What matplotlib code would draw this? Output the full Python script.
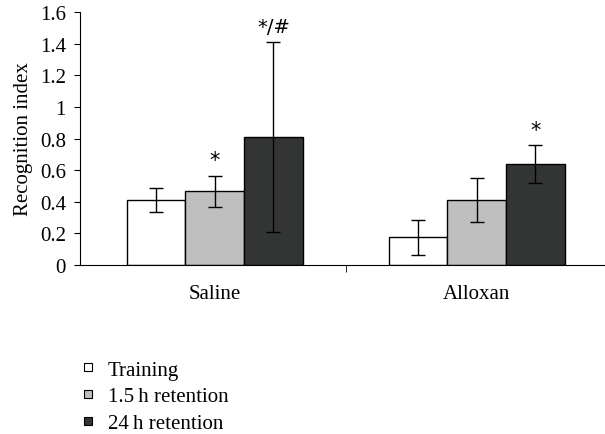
import matplotlib.pyplot as plt
import numpy as np

plt.rcParams['font.family'] = ['Liberation Serif', 'DejaVu Serif']

# data
groups = ["Saline", "Alloxan"]
series = ["Training", "1.5\u2009h retention", "24\u2009h retention"]
means = [[0.41, 0.175], [0.465, 0.41], [0.81, 0.637]]
errs = [[0.075, 0.11], [0.10, 0.14], [0.60, 0.12]]
colors = ["white", "#bfbfbf", "#333534"]
marks = [["", ""], ["*", ""], ["*/#", "*"]]

fig = plt.figure(figsize=(6.05, 4.35), dpi=100)
ax = fig.add_axes([0.132, 0.3885, 0.868, 0.5815])

x = np.arange(len(groups))
w = 0.224
for i, s in enumerate(series):
    pos = x + (i - 1) * w
    ax.bar(pos, means[i], w, color=colors[i], edgecolor="black", linewidth=1, label=s)
    ax.errorbar(pos, means[i], yerr=errs[i], fmt="none", ecolor="black",
                elinewidth=1, capsize=5, capthick=1)
    for j, m in enumerate(marks[i]):
        if m:
            ax.text(pos[j], means[i][j] + errs[i][j] + 0.1, m, ha="center",
                    va="center", fontsize=15 if m == "*" else 14,
                    family=['DejaVu Sans'])

ax.set_xlim(-0.515, 1.49)
ax.set_ylim(0, 1.6)
ax.set_yticks(np.arange(0, 1.61, 0.2))
ax.set_yticklabels(["0", "0.2", "0.4", "0.6", "0.8", "1", "1.2", "1.4", "1.6"])
ax.set_xticks(x)
ax.set_xticklabels(groups)
ax.set_xticks([0.5], minor=True)
ax.tick_params(axis="x", which="major", length=0, pad=14, labelsize=15)
ax.tick_params(axis="x", which="minor", length=5, direction="out")
ax.tick_params(axis="y", direction="out", length=4, labelsize=15, pad=6)
ax.set_ylabel("Recognition index", fontsize=15, labelpad=5)
ax.spines["top"].set_visible(False)
ax.spines["right"].set_visible(False)

handles = [plt.Line2D([], [], marker="s", linestyle="none", markersize=5.5,
                      markerfacecolor=c, markeredgecolor="black", markeredgewidth=0.8)
           for c in colors]
fig.legend(handles, series, loc="upper left", bbox_to_anchor=(0.132, 0.170),
           frameon=False, fontsize=15, handletextpad=0.55, labelspacing=0.34,
           handlelength=0.8, borderpad=0, borderaxespad=0)

fig.savefig("out.png", dpi=100)
